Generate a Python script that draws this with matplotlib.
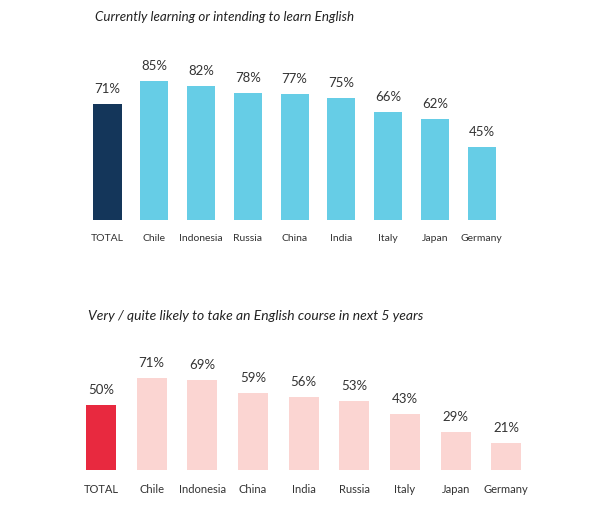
import matplotlib
matplotlib.use("Agg")
import matplotlib.pyplot as plt

plt.rcParams['font.family'] = ['Lato', 'DejaVu Sans']

title1 = "Currently learning or intending to learn English"
cats1 = ["TOTAL", "Chile", "Indonesia", "Russia", "China", "India", "Italy", "Japan", "Germany"]
vals1 = [71, 85, 82, 78, 77, 75, 66, 62, 45]

title2 = "Very / quite likely to take an English course in next 5 years"
cats2 = ["TOTAL", "Chile", "Indonesia", "China", "India", "Russia", "Italy", "Japan", "Germany"]
vals2 = [50, 71, 69, 59, 56, 53, 43, 29, 21]

W, H = 600, 508
fig = plt.figure(figsize=(W/100, H/100), dpi=100)

def px_axes(left, bottom_px, width, height):
    return fig.add_axes([left/W, (H-bottom_px)/H, width/W, height/H])

def draw(ax, cats, vals, c_total, c_other, bw, fs_tick):
    colors = [c_total] + [c_other]*(len(vals)-1)
    x = list(range(len(cats)))
    ax.bar(x, vals, width=bw, color=colors)
    for xi, v in zip(x, vals):
        ax.annotate(f"{v}%", (xi, v), xytext=(0, 6.5), textcoords="offset points",
                    ha="center", va="bottom", fontsize=9.5, color="#333333")
    ax.set_xticks(x)
    ax.set_xticklabels(cats, fontsize=fs_tick, color="#333333")
    ax.tick_params(axis="x", length=0, pad=10)
    ax.set_yticks([])
    ax.set_xlim(-0.5, len(cats)-0.5)
    ax.set_ylim(0, 100)
    for s in ax.spines.values():
        s.set_visible(False)

# top chart: baseline y=220px, 1.63 px per %
ax1 = px_axes(84.1, 220, 421, 163)
draw(ax1, cats1, vals1, "#14365a", "#66cde6", 0.6, 7.5)
fig.text(95/W, 1-17/H, title1, fontsize=9.6, style="italic", color="#222222",
         ha="left", va="center")

# bottom chart: baseline y=470px, 1.3 px per %
ax2 = px_axes(75.65, 470, 456, 130)
draw(ax2, cats2, vals2, "#e8293f", "#fbd5d2", 0.59, 8)
fig.text(88/W, 1-316/H, title2, fontsize=10, style="italic", color="#222222",
         ha="left", va="center")

fig.savefig("out.png", dpi=100)
